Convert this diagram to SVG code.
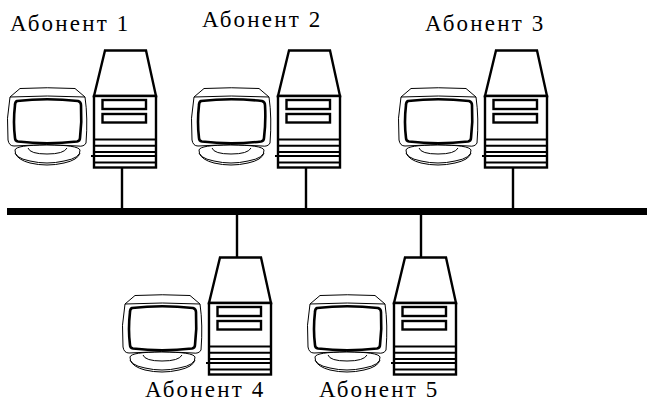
<svg xmlns="http://www.w3.org/2000/svg" xmlns:xlink="http://www.w3.org/1999/xlink" width="647" height="401" viewBox="0 0 647 401">
<style>
text{font-family:"Liberation Serif","Times New Roman",serif;font-size:23px;letter-spacing:2.2px;fill:#000}
.t{fill:#fff;stroke:#000;stroke-width:2.4;stroke-linejoin:miter}
.l{fill:none;stroke:#000;stroke-width:2}
.o{fill:#fff;stroke:#000;stroke-width:1}
.ot{fill:none;stroke:#000;stroke-width:1}
.s{fill:#fff;stroke:#000;stroke-width:2.6}
.c{stroke:#000;stroke-width:2.4;fill:none}
</style>
<defs>
<g id="pc">
<path class="o" d="M15 150Q14 158 30 161Q47 165 64 161Q81 158 80 150Q78 145 47 145Q16 145 15 150Z"/>
<path class="ot" d="M15 153Q18 160 30 163Q47 167 64 163Q78 160 80 153"/>
<path class="ot" d="M28 148Q30 154 47 154Q64 154 67 148"/>
<path class="o" d="M10 97L20 88.500Q47 87 75 88.500L85 97Q88 118 86 143Q84 147 78 146Q47 143 14 146Q9 146 8 140Q6 118 10 97Z"/>
<path class="ot" d="M10 97Q47 95 85 97"/>
<path class="s" d="M17 101Q47 97.500 78 101Q81 102 81 105Q82 122 80 138Q80 141 77 141.500Q47 145 18 141.500Q15 141 15 138Q13 122 15 105Q15 102 17 101Z"/>
<path class="t" d="M105 50.500H146L156 96H94Z"/>
<rect class="t" x="94" y="96" width="62" height="71.500"/>
<rect class="t" x="102.500" y="100" width="43.500" height="9"/>
<rect class="t" x="102.500" y="114" width="43.500" height="8.500"/>
<path class="l" d="M94 139.500H156M94 145.700H156M94 152H156M91 156H155M94 162.500H156"/>
</g>
</defs>
<g id="connectors">
<rect x="7" y="208" width="640" height="7" fill="#000"/>
<path class="c" d="M122 167V208M306 167V208M513 167V208M237 215V257M421 215V257"/>
</g>
<g id="abonent-1"><use xlink:href="#pc" href="#pc"/><text x="10" y="31">Абонент 1</text></g>
<g id="abonent-2"><use xlink:href="#pc" href="#pc" x="184"/><text x="202" y="27">Абонент 2</text></g>
<g id="abonent-3"><use xlink:href="#pc" href="#pc" x="391"/><text x="425" y="31">Абонент 3</text></g>
<g id="abonent-4"><use xlink:href="#pc" href="#pc" x="115" y="207"/><text x="145" y="397">Абонент 4</text></g>
<g id="abonent-5"><use xlink:href="#pc" href="#pc" x="300" y="207"/><text x="319" y="397">Абонент 5</text></g>
</svg>
